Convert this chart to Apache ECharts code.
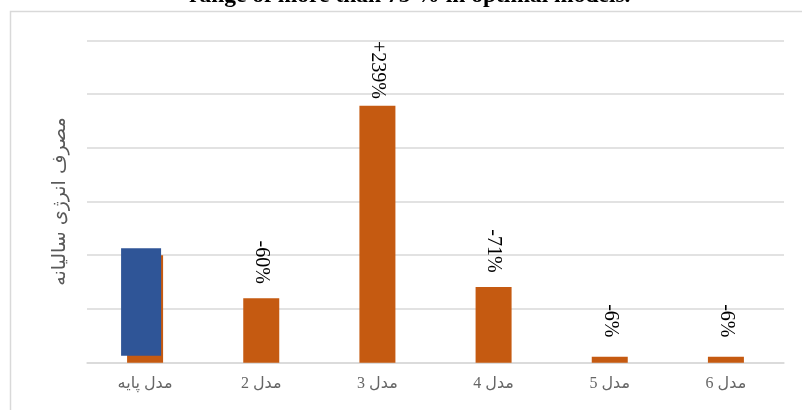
<!DOCTYPE html>
<html>
<head>
<meta charset="utf-8">
<script src="https://cdn.jsdelivr.net/npm/echarts@6/dist/echarts.min.js"></script>
<style>
html,body{margin:0;padding:0;background:#fff;}
#chart{width:802px;height:410px;}
</style>
</head>
<body>
<div id="chart"></div>
<script>
const titleText = 'range of more than 75 % in optimal models.';
const yAxisName = 'مصرف انرژی سالیانه';
const categories = ['مدل پایه', 'مدل 2', 'مدل 3', 'مدل 4', 'مدل 5', 'مدل 6'];
const optimizedValues = [2, 1.2, 4.78, 1.41, 0.11, 0.11];
const baseValues = [2, null, null, null, null, null];
const changeLabels = ['', '-60%', '+239%', '-71%', '-6%', '-6%'];
const yTicks = [0, 1, 2, 3, 4, 5, 6];

const chart = echarts.init(document.getElementById('chart'), null, {renderer: 'canvas'});
const option = {
  backgroundColor: '#ffffff',
  animation: false,
  title: {
    text: titleText,
    left: 189,
    top: -16,
    padding: 0,
    textStyle: {fontFamily: 'Liberation Serif', fontWeight: 'bold', fontSize: 23.5, color: '#000'}
  },
  graphic: [{
    type: 'rect',
    shape: {x: 10.5, y: 11.5, width: 900, height: 500},
    style: {fill: 'none', stroke: '#d9d9d9', lineWidth: 1.5},
    silent: true, z: -1
  }],
  grid: [
    {left: 87, right: 18, top: 40.3, bottom: 47.3},
    {left: 83, right: 22, top: 33.3, bottom: 54.3}
  ],
  xAxis: [{
    type: 'category', gridIndex: 0, data: categories,
    axisLine: {lineStyle: {color: '#d9d9d9', width: 1.5}},
    axisTick: {show: false},
    axisLabel: {color: '#666666', fontSize: 16, margin: 13, fontFamily: 'Liberation Serif, DejaVu Sans'}
  }, {
    type: 'category', gridIndex: 1, data: categories, show: false
  }],
  yAxis: [{
    type: 'value', gridIndex: 0, min: yTicks[0], max: yTicks[yTicks.length - 1], interval: 1,
    name: yAxisName, nameLocation: 'middle', nameGap: 17, nameRotate: 90,
    nameTextStyle: {color: '#595959', fontSize: 19, fontFamily: 'DejaVu Sans'},
    axisLine: {show: false}, axisTick: {show: false}, axisLabel: {show: false},
    splitLine: {lineStyle: {color: '#d9d9d9', width: 1.5}}
  }, {
    type: 'value', gridIndex: 1, min: yTicks[0], max: yTicks[yTicks.length - 1], interval: 1, show: false,
    splitLine: {show: false}
  }],
  series: [{
    type: 'bar', xAxisIndex: 0, yAxisIndex: 0, data: optimizedValues, barWidth: 36,
    itemStyle: {color: '#C55A11'},
    label: {
      show: true, position: 'top', distance: 36, rotate: -90,
      align: 'center', verticalAlign: 'middle',
      fontFamily: 'Liberation Serif', fontSize: 20, color: '#000',
      formatter: p => changeLabels[p.dataIndex]
    }
  }, {
    type: 'bar', xAxisIndex: 1, yAxisIndex: 1, data: baseValues, barWidth: 40,
    itemStyle: {color: '#2F5597'}, z: 3
  }]
};
chart.setOption(option);
</script>
</body>
</html>
